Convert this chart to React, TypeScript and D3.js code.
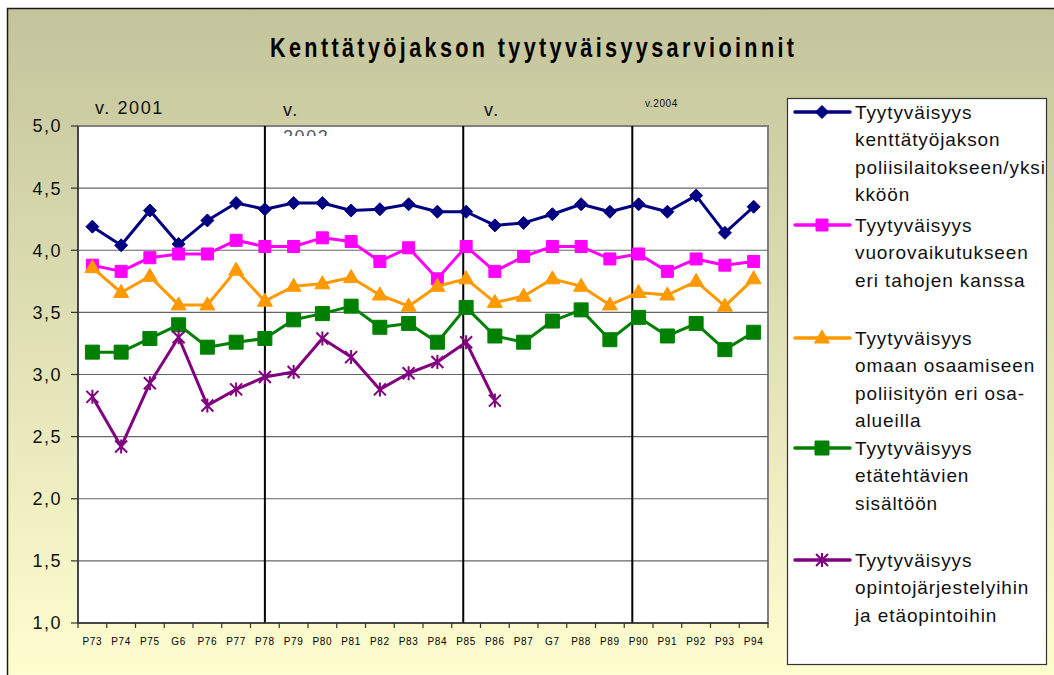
import React, { useEffect, useRef } from 'react';
import * as d3 from 'd3';

const categories = ['P73', 'P74', 'P75', 'G6', 'P76', 'P77', 'P78', 'P79', 'P80', 'P81', 'P82', 'P83',
  'P84', 'P85', 'P86', 'P87', 'G7', 'P88', 'P89', 'P90', 'P91', 'P92', 'P93', 'P94'];

const workplace = [4.19, 4.04, 4.32, 4.05, 4.24, 4.38, 4.33, 4.38, 4.38, 4.32, 4.33, 4.37,
  4.31, 4.31, 4.20, 4.22, 4.29, 4.37, 4.31, 4.37, 4.31, 4.44, 4.14, 4.35];
const interaction = [3.88, 3.83, 3.94, 3.97, 3.97, 4.08, 4.03, 4.03, 4.10, 4.07, 3.91, 4.02,
  3.77, 4.03, 3.83, 3.95, 4.03, 4.03, 3.93, 3.97, 3.83, 3.93, 3.88, 3.91];
const competence = [3.86, 3.66, 3.79, 3.56, 3.56, 3.84, 3.59, 3.71, 3.73, 3.78, 3.64, 3.55,
  3.71, 3.77, 3.58, 3.63, 3.77, 3.71, 3.56, 3.66, 3.64, 3.75, 3.55, 3.77];
const remoteTasks = [3.18, 3.18, 3.29, 3.40, 3.22, 3.26, 3.29, 3.44, 3.49, 3.55, 3.38, 3.41,
  3.26, 3.54, 3.31, 3.26, 3.43, 3.52, 3.28, 3.46, 3.31, 3.41, 3.20, 3.34];
const studies = [2.82, 2.42, 2.93, 3.30, 2.75, 2.88, 2.98, 3.02, 3.29, 3.14, 2.88, 3.01,
  3.10, 3.26, 2.79, null, null, null, null, null, null, null, null, null];

const yTicks = [1, 1.5, 2, 2.5, 3, 3.5, 4, 4.5, 5];

// year dividers sit at (fractional) category positions
const yearDividers = [6, 12.9, 18.78];

const seriesList = [
  { name: ['Tyytyväisyys', 'kenttätyöjakson', 'poliisilaitokseen/yksi', 'kköön'], values: workplace, color: '#000080', marker: 'diamond', ly: 112 },
  { name: ['Tyytyväisyys', 'vuorovaikutukseen', 'eri tahojen kanssa'], values: interaction, color: '#FF00FF', marker: 'square', ly: 225 },
  { name: ['Tyytyväisyys', 'omaan osaamiseen', 'poliisityön eri osa-', 'alueilla'], values: competence, color: '#FF9900', marker: 'triangle', ly: 338 },
  { name: ['Tyytyväisyys', 'etätehtävien', 'sisältöön'], values: remoteTasks, color: '#008000', marker: 'bigsquare', ly: 448 },
  { name: ['Tyytyväisyys', 'opintojärjestelyihin', 'ja etäopintoihin'], values: studies, color: '#800080', marker: 'star', ly: 560 }
];

function markerPath(kind) {
  const p = d3.path();
  if (kind === 'diamond') {
    p.moveTo(0, -6.5); p.lineTo(6.5, 0); p.lineTo(0, 6.5); p.lineTo(-6.5, 0); p.closePath();
  } else if (kind === 'square') {
    p.rect(-6, -6, 12, 12);
  } else if (kind === 'bigsquare') {
    p.rect(-7, -7, 14, 14);
  } else if (kind === 'triangle') {
    p.moveTo(0, -8); p.lineTo(7.5, 5); p.lineTo(-7.5, 5); p.closePath();
  } else {
    p.moveTo(-6, -6); p.lineTo(6, 6);
    p.moveTo(6, -6); p.lineTo(-6, 6);
    p.moveTo(0, -7); p.lineTo(0, 7);
  }
  return p.toString();
}

const FONT = '"Liberation Sans", Arial, sans-serif';

export default function App() {
  const ref = useRef(null);

  useEffect(() => {
    const svg = d3.select(ref.current);
    svg.selectAll('*').remove();

    const left = 78, right = 768, top = 126, bottom = 623;

    const x = d3.scaleBand().domain(categories).range([left, right]);
    const xi = d3.scaleLinear().domain([-0.5, categories.length - 0.5]).range([left, right]);
    const y = d3.scaleLinear().domain([1, 5]).range([bottom, top]);

    const defs = svg.append('defs');
    const grad = defs.append('linearGradient').attr('id', 'bg').attr('x1', 0).attr('y1', 0).attr('x2', 0).attr('y2', 1);
    grad.append('stop').attr('offset', '0%').attr('stop-color', '#C4C49C');
    grad.append('stop').attr('offset', '100%').attr('stop-color', '#FFFFD0');
    defs.append('clipPath').attr('id', 'yearClip').append('rect')
      .attr('x', 0).attr('y', 0).attr('width', 1054).attr('height', top + 10);
    defs.append('clipPath').attr('id', 'legClip').append('rect')
      .attr('x', 787).attr('y', 98).attr('width', 260).attr('height', 567);

    // chart area
    svg.append('rect').attr('x', 7.5).attr('y', 8.5).attr('width', 1060).attr('height', 680)
      .attr('fill', 'url(#bg)').attr('stroke', '#1a1a1a').attr('stroke-width', 1.5);

    // title (tall, narrow glyphs like the original)
    svg.append('text').attr('transform', 'translate(532,57) scale(0.8,1)').attr('text-anchor', 'middle')
      .attr('font-family', FONT).attr('font-weight', 'bold').attr('font-size', 27)
      .attr('textLength', 655).attr('lengthAdjust', 'spacing')
      .text('Kenttätyöjakson tyytyväisyysarvioinnit');

    // plot area
    svg.append('rect').attr('x', left).attr('y', top).attr('width', right - left).attr('height', bottom - top)
      .attr('fill', '#fff').attr('stroke', '#808080').attr('stroke-width', 2);

    svg.append('g').selectAll('line').data(yTicks.slice(1, -1)).join('line')
      .attr('x1', left).attr('x2', right)
      .attr('y1', d => y(d)).attr('y2', d => y(d))
      .attr('stroke', '#666').attr('stroke-width', 1.2);

    // year dividers
    svg.append('g').selectAll('line').data(yearDividers).join('line')
      .attr('x1', d => xi(d)).attr('x2', d => xi(d))
      .attr('y1', top).attr('y2', bottom)
      .attr('stroke', '#000').attr('stroke-width', 2);

    // axes
    svg.append('line').attr('x1', left).attr('x2', left).attr('y1', top).attr('y2', bottom)
      .attr('stroke', '#333').attr('stroke-width', 1.5);
    svg.append('line').attr('x1', left).attr('x2', right).attr('y1', bottom).attr('y2', bottom)
      .attr('stroke', '#333').attr('stroke-width', 1.5);

    svg.append('g').selectAll('line').data(yTicks).join('line')
      .attr('x1', left - 7).attr('x2', left)
      .attr('y1', d => y(d)).attr('y2', d => y(d))
      .attr('stroke', '#333').attr('stroke-width', 1.2);
    svg.append('g').selectAll('text').data(yTicks).join('text')
      .attr('x', 62).attr('y', d => y(d)).attr('dy', '0.36em')
      .attr('text-anchor', 'end').attr('font-family', FONT).attr('font-size', 18)
      .attr('letter-spacing', 1.5).attr('fill', '#111')
      .text(d => d3.format('.1f')(d).replace('.', ','));

    const xTickPos = d3.range(categories.length + 1).map(i => xi(i - 0.5));
    svg.append('g').selectAll('line').data(xTickPos).join('line')
      .attr('x1', d => d).attr('x2', d => d)
      .attr('y1', bottom).attr('y2', bottom + 5)
      .attr('stroke', '#333').attr('stroke-width', 1.2);
    svg.append('g').selectAll('text').data(categories).join('text')
      .attr('x', d => x(d) + x.bandwidth() / 2).attr('y', 645)
      .attr('text-anchor', 'middle').attr('font-family', FONT).attr('font-size', 10)
      .attr('letter-spacing', 0.6)
      .text(d => d);

    // year labels
    const years = svg.append('g').attr('font-family', FONT).attr('fill', '#111').attr('clip-path', 'url(#yearClip)');
    years.append('text').attr('x', 95).attr('y', 114).attr('font-size', 18).attr('letter-spacing', 1.6).text('v. 2001');
    years.append('text').attr('x', 283).attr('y', 116).attr('font-size', 18).attr('letter-spacing', 1.6).text('v.');
    years.append('text').attr('x', 283).attr('y', 143).attr('font-size', 18).attr('letter-spacing', 1.6).attr('fill', '#555').text('2002');
    years.append('text').attr('x', 484).attr('y', 116).attr('font-size', 18).attr('letter-spacing', 1.6).text('v.');
    years.append('text').attr('x', 645).attr('y', 107).attr('font-size', 10).attr('letter-spacing', 0.6).text('v.2004');

    // series
    const line = d3.line()
      .defined(d => d != null)
      .x((d, i) => x(categories[i]) + x.bandwidth() / 2)
      .y(d => y(d));

    seriesList.forEach(s => {
      svg.append('path').datum(s.values)
        .attr('d', line).attr('fill', 'none')
        .attr('stroke', s.color).attr('stroke-width', 3).attr('stroke-linejoin', 'round');
      const pts = s.values.map((v, i) => ({ v, c: categories[i] })).filter(d => d.v != null);
      svg.append('g').selectAll('path').data(pts).join('path')
        .attr('transform', d => `translate(${x(d.c) + x.bandwidth() / 2},${y(d.v)})`)
        .attr('d', markerPath(s.marker))
        .attr('fill', s.marker === 'star' ? 'none' : s.color)
        .attr('stroke', s.color)
        .attr('stroke-width', s.marker === 'star' ? 2 : 1);
    });

    // legend
    svg.append('rect').attr('x', 787.5).attr('y', 98.5).attr('width', 259).attr('height', 566)
      .attr('fill', '#fff').attr('stroke', '#333').attr('stroke-width', 1.2);
    const leg = svg.append('g').attr('clip-path', 'url(#legClip)');
    seriesList.forEach(s => {
      leg.append('line').attr('x1', 795).attr('x2', 850).attr('y1', s.ly).attr('y2', s.ly)
        .attr('stroke', s.color).attr('stroke-width', 3.5).attr('stroke-linecap', 'round');
      leg.append('path').attr('transform', `translate(822,${s.ly})`)
        .attr('d', markerPath(s.marker))
        .attr('fill', s.marker === 'star' ? 'none' : s.color)
        .attr('stroke', s.color).attr('stroke-width', s.marker === 'star' ? 2 : 1);
      leg.append('g').selectAll('text').data(s.name).join('text')
        .attr('x', 855).attr('y', (d, i) => s.ly + i * 27.5).attr('dy', '0.36em')
        .attr('font-family', FONT).attr('font-size', 19).attr('letter-spacing', 0.9)
        .attr('fill', '#111')
        .text(d => d);
    });
  }, []);

  return (
    <svg ref={ref} width={1054} height={675}
      style={{ position: 'absolute', left: 0, top: 0, background: '#fff' }} />
  );
}
